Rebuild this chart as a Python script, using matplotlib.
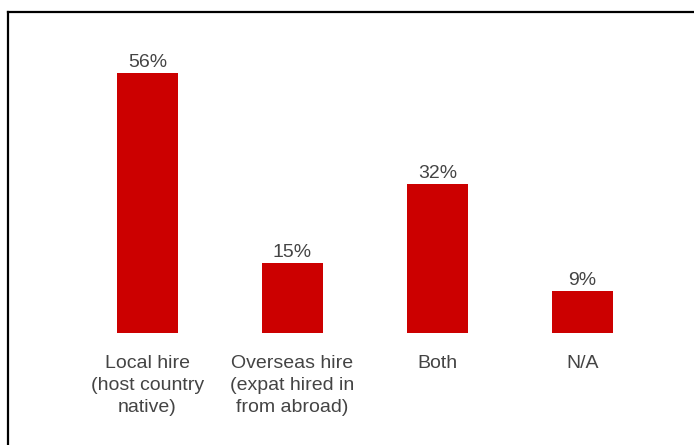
import matplotlib
matplotlib.use("Agg")
import matplotlib.pyplot as plt
from matplotlib.lines import Line2D

categories = ["Local hire\n(host country\nnative)",
              "Overseas hire\n(expat hired in\nfrom abroad)",
              "Both",
              "N/A"]
values = [56, 15, 32, 9]

bar_color = "#cc0000"
text_color = "#444444"

plt.rcParams["font.family"] = ["Liberation Sans", "DejaVu Sans"]

fig = plt.figure(figsize=(6.94, 4.45), dpi=100)
ax = fig.add_axes([0.1081, 0.2517, 0.8357, 0.626])

x = range(len(values))
bars = ax.bar(x, values, width=0.42, color=bar_color)

# value labels on top of each bar
for rect, v in zip(bars, values):
    ax.annotate(f"{v}%", (rect.get_x() + rect.get_width() / 2, v),
                xytext=(0, 1.5), textcoords="offset points",
                ha="center", va="bottom", fontsize=14, color=text_color)

ax.set_xlim(-0.5, 3.5)
ax.set_ylim(0, 60)
ax.set_xticks(list(x))
ax.set_xticklabels(categories, fontsize=14, color=text_color, linespacing=1.38)
ax.tick_params(axis="x", length=0, pad=16)
ax.set_yticks([])
for s in ax.spines.values():
    s.set_visible(False)

# frame: top and left edges only
fig.add_artist(Line2D([0.0115, 1.0], [0.973, 0.973], color="black", lw=1.6,
                      transform=fig.transFigure))
fig.add_artist(Line2D([0.0115, 0.0115], [0.0, 0.973], color="black", lw=1.6,
                      transform=fig.transFigure))

fig.savefig("out.png", dpi=100)
